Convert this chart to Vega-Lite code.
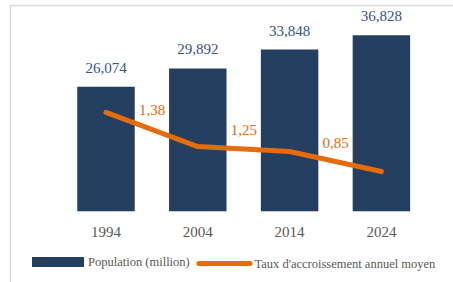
{
  "$schema": "https://vega.github.io/schema/vega-lite/v6.json",
  "width": 450,
  "height": 285,
  "autosize": {"type": "none"},
  "padding": {"left": 10.5, "top": 5.5, "right": -7.5, "bottom": -8.5},
  "background": "white",
  "config": {
    "view": {"stroke": "#D9D9D9", "strokeWidth": 1.5},
    "locale": {"number": {"decimal": ",", "thousands": " ", "grouping": [3], "currency": ["", " €"]}},
    "font": "Liberation Serif"
  },
  "data": {
    "values": [
      {"annee": "1994", "population": 26.074, "courbe": 1.40, "taux": 1.38},
      {"annee": "2004", "population": 29.892, "courbe": 0.92, "taux": 1.25},
      {"annee": "2014", "population": 33.848, "courbe": 0.85, "taux": 0.85},
      {"annee": "2024", "population": 36.828, "courbe": 0.57, "taux": null}
    ]
  },
  "encoding": {
    "x": {
      "field": "annee",
      "type": "ordinal",
      "scale": {"paddingInner": 0.374, "paddingOuter": 0.638, "align": 0.57},
      "axis": {
        "orient": "bottom",
        "offset": -79.2,
        "domain": false,
        "ticks": false,
        "grid": false,
        "labelPadding": 25,
        "labelBaseline": "alphabetic",
        "labelAngle": 0,
        "labelFont": "Liberation Serif",
        "labelFontSize": 15,
        "labelColor": "#595959",
        "title": null
      }
    }
  },
  "layer": [
    {
      "mark": {"type": "bar"},
      "encoding": {
        "y": {"field": "population", "type": "quantitative", "scale": {"domain": [-16.569, 43.054], "nice": false, "zero": false}, "axis": null},
        "fill": {
          "datum": "Population (million)",
          "type": "nominal",
          "scale": {"range": ["#253F60"]},
          "legend": {
            "orient": "none",
            "legendX": 21.5,
            "legendY": 230.5,
            "direction": "horizontal",
            "title": null,
            "padding": 0,
            "symbolType": "M-1,-0.19H1V0.19H-1Z",
            "symbolSize": 2704,
            "symbolStrokeWidth": 0,
            "labelFont": "Liberation Serif",
            "labelFontSize": 12.5,
            "labelColor": "#595959",
            "labelOffset": 4,
            "labelLimit": 0
          }
        }
      }
    },
    {
      "mark": {"type": "text", "baseline": "middle", "dy": -19, "font": "Liberation Serif", "fontSize": 15, "color": "#34548A"},
      "encoding": {
        "y": {"field": "population", "type": "quantitative", "scale": {"domain": [-16.569, 43.054], "nice": false, "zero": false}, "axis": null},
        "text": {"field": "population", "type": "quantitative", "format": ".3f"}
      }
    },
    {
      "mark": {"type": "line", "strokeWidth": 5, "strokeCap": "round", "strokeJoin": "round"},
      "encoding": {
        "y": {"field": "courbe", "type": "quantitative", "scale": {"domain": [-1.1, 2.9], "nice": false, "zero": false}, "axis": null},
        "stroke": {
          "datum": "Taux d'accroissement annuel moyen",
          "type": "nominal",
          "scale": {"range": ["#E46C0A"]},
          "legend": {
            "orient": "none",
            "legendX": 186,
            "legendY": 230,
            "direction": "horizontal",
            "title": null,
            "padding": 0,
            "symbolType": "stroke",
            "symbolSize": 2601,
            "symbolStrokeWidth": 5,
            "labelFont": "Liberation Serif",
            "labelFontSize": 12.5,
            "labelColor": "#595959",
            "labelOffset": 2,
            "labelLimit": 0,
            "encode": {"symbols": {"update": {"strokeCap": {"value": "round"}}}}
          }
        }
      }
    },
    {
      "transform": [
        {"window": [{"op": "lead", "field": "courbe", "as": "suivant"}]},
        {"filter": "datum.suivant != null"},
        {"calculate": "(datum.courbe + datum.suivant) / 2", "as": "milieu"}
      ],
      "mark": {"type": "text", "baseline": "middle", "dx": 46, "dy": -19, "font": "Liberation Serif", "fontSize": 15, "color": "#E46C0A"},
      "encoding": {
        "y": {"field": "milieu", "type": "quantitative", "scale": {"domain": [-1.1, 2.9], "nice": false, "zero": false}, "axis": null},
        "text": {"field": "taux", "type": "quantitative", "format": ".2f"}
      }
    }
  ],
  "resolve": {"scale": {"y": "independent"}}
}
